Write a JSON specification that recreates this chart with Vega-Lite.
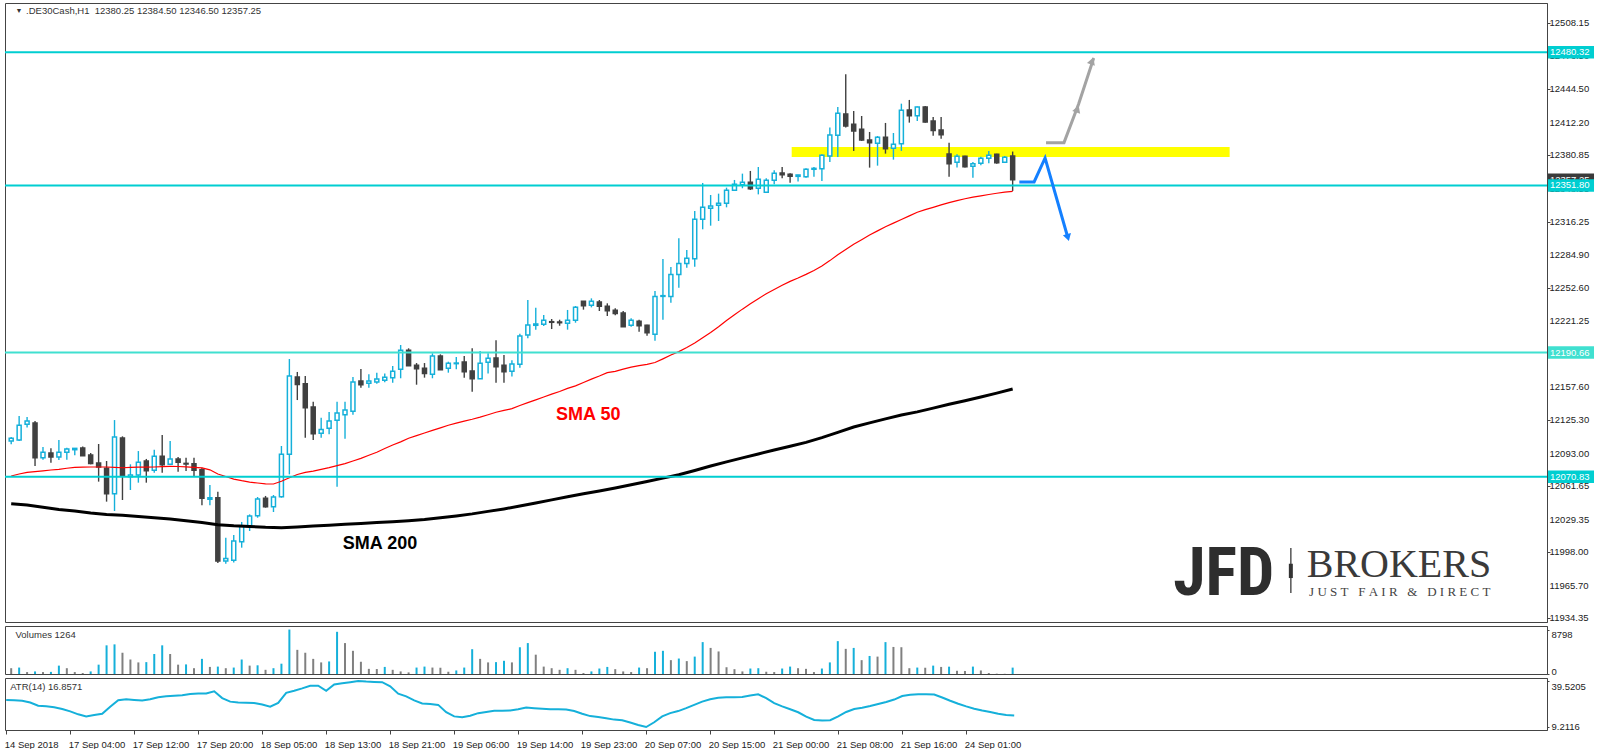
{
"$schema": "https://vega.github.io/schema/vega-lite/v6.json",
"padding": {"left": 3, "top": 2, "right": 0, "bottom": 0},
"background": "white",
"spacing": 1,
"config": {
  "view": {"stroke": "#444444", "strokeWidth": 1},
  "axis": {"labelFont": "Liberation Sans", "labelFontSize": 9.5, "labelColor": "#222222", "tickColor": "#444444", "domainColor": "#444444", "grid": false, "labelOverlap": false, "title": null}
},
"datasets": {
  "candles": [
{"k":0,"o":12105.3,"h":12109.1,"l":12102.1,"c":12107.9,"s":12071.5,"v":1148,"a":27.08},
{"k":1,"o":12106.3,"h":12129.4,"l":12105.3,"c":12120.4,"s":12073.5,"v":1275,"a":26.89},
{"k":2,"o":12121.4,"h":12128.4,"l":12118.2,"c":12124.6,"s":12075,"v":383,"a":26.5},
{"k":3,"o":12122.7,"h":12124.6,"l":12081.2,"c":12089.2,"s":12075.8,"v":510,"a":25.34},
{"k":4,"o":12089.2,"h":12099.5,"l":12087.3,"c":12094.4,"s":12076.5,"v":383,"a":23.2},
{"k":5,"o":12093.7,"h":12098.2,"l":12084.4,"c":12089.9,"s":12077.3,"v":420,"a":22.81},
{"k":6,"o":12089.9,"h":12106.3,"l":12086.9,"c":12094.4,"s":12078,"v":1658,"a":22.23},
{"k":7,"o":12094.4,"h":12098.9,"l":12087.3,"c":12097.6,"s":12079,"v":1148,"a":21.06},
{"k":8,"o":12096.9,"h":12098.2,"l":12091.5,"c":12098.2,"s":12079.8,"v":383,"a":19.51},
{"k":9,"o":12098.5,"h":12100.1,"l":12091.1,"c":12091.1,"s":12080,"v":191,"a":17.56},
{"k":10,"o":12091.8,"h":12093.7,"l":12082.8,"c":12083.7,"s":12080.2,"v":510,"a":16.2},
{"k":11,"o":12084.1,"h":12102.4,"l":12066.1,"c":12080.2,"s":12080.2,"v":1849,"a":17.18},
{"k":12,"o":12078.9,"h":12086.0,"l":12046.8,"c":12054.5,"s":12080.2,"v":5674,"a":17.95},
{"k":13,"o":12054.5,"h":12125.5,"l":12037.8,"c":12109.1,"s":12079.8,"v":5865,"a":22.62},
{"k":14,"o":12108.2,"h":12109.8,"l":12048.4,"c":12071.2,"s":12079.5,"v":4208,"a":26.89},
{"k":15,"o":12070.9,"h":12082.8,"l":12058.0,"c":12072.5,"s":12079.8,"v":2869,"a":27.47},
{"k":16,"o":12072.5,"h":12095.6,"l":12065.1,"c":12084.7,"s":12080,"v":2295,"a":27.08},
{"k":17,"o":12086.0,"h":12088.0,"l":12065.1,"c":12076.7,"s":12080.1,"v":2350,"a":26.7},
{"k":18,"o":12077.0,"h":12096.9,"l":12074.7,"c":12090.5,"s":12080.2,"v":3953,"a":27.47},
{"k":19,"o":12090.5,"h":12111.1,"l":12074.7,"c":12082.5,"s":12080.6,"v":5674,"a":28.83},
{"k":20,"o":12082.8,"h":12105.3,"l":12082.8,"c":12087.9,"s":12080.9,"v":3953,"a":29.42},
{"k":21,"o":12087.9,"h":12089.9,"l":12075.7,"c":12084.7,"s":12080.7,"v":1849,"a":29.8},
{"k":22,"o":12083.7,"h":12089.2,"l":12076.3,"c":12083.1,"s":12080.4,"v":1900,"a":30.19},
{"k":23,"o":12083.4,"h":12089.2,"l":12071.5,"c":12077.0,"s":12079.9,"v":1148,"a":30.97},
{"k":24,"o":12077.6,"h":12079.6,"l":12043.2,"c":12050.0,"s":12079.3,"v":2996,"a":31.36},
{"k":25,"o":12049.0,"h":12062.9,"l":12043.2,"c":12050.6,"s":12077.5,"v":1403,"a":31.36},
{"k":26,"o":12050.6,"h":12056.4,"l":11987.6,"c":11989.5,"s":12073.5,"v":1466,"a":32.72},
{"k":27,"o":11989.5,"h":12012.0,"l":11987.0,"c":11992.0,"s":12071,"v":1148,"a":28.25},
{"k":28,"o":11990.2,"h":12014.6,"l":11988.0,"c":12008.8,"s":12068.5,"v":1275,"a":25.92},
{"k":29,"o":12008.2,"h":12027.2,"l":12002.4,"c":12023.0,"s":12067,"v":2869,"a":25.34},
{"k":30,"o":12023.0,"h":12034.5,"l":12018.5,"c":12032.9,"s":12065.7,"v":1658,"a":25.14},
{"k":31,"o":12033.3,"h":12051.3,"l":12031.3,"c":12049.3,"s":12064.8,"v":1720,"a":24.95},
{"k":32,"o":12050.0,"h":12052.3,"l":12041.0,"c":12041.9,"s":12064,"v":829,"a":23.98},
{"k":33,"o":12041.9,"h":12053.2,"l":12036.8,"c":12051.3,"s":12063.8,"v":1148,"a":22.62},
{"k":34,"o":12051.6,"h":12100.5,"l":12050.6,"c":12092.4,"s":12066.5,"v":2040,"a":25.14},
{"k":35,"o":12092.4,"h":12184.4,"l":12073.1,"c":12168.0,"s":12069.9,"v":8798,"a":31.75},
{"k":36,"o":12167.0,"h":12171.9,"l":12144.8,"c":12159.9,"s":12073,"v":4781,"a":33.11},
{"k":37,"o":12160.6,"h":12168.0,"l":12108.5,"c":12137.4,"s":12075,"v":4208,"a":34.66},
{"k":38,"o":12138.1,"h":12143.2,"l":12106.3,"c":12112.4,"s":12076.3,"v":2996,"a":36.41},
{"k":39,"o":12112.7,"h":12127.8,"l":12108.5,"c":12116.5,"s":12078,"v":2295,"a":36.41},
{"k":40,"o":12117.5,"h":12133.3,"l":12111.7,"c":12124.6,"s":12079.6,"v":2486,"a":33.11},
{"k":41,"o":12125.2,"h":12143.2,"l":12061.2,"c":12132.3,"s":12081.5,"v":8351,"a":37.19},
{"k":42,"o":12130.7,"h":12143.2,"l":12107.5,"c":12135.2,"s":12083.5,"v":6120,"a":37.97},
{"k":43,"o":12133.9,"h":12167.0,"l":12130.7,"c":12162.2,"s":12086,"v":4590,"a":38.74},
{"k":44,"o":12163.2,"h":12174.8,"l":12156.7,"c":12159.6,"s":12088.5,"v":2423,"a":39.52},
{"k":45,"o":12160.9,"h":12169.6,"l":12156.7,"c":12163.2,"s":12091.5,"v":1020,"a":39.13},
{"k":46,"o":12162.2,"h":12171.2,"l":12160.6,"c":12165.1,"s":12094.5,"v":980,"a":38.94},
{"k":47,"o":12163.8,"h":12170.3,"l":12161.9,"c":12166.7,"s":12098,"v":1403,"a":38.74},
{"k":48,"o":12166.4,"h":12177.6,"l":12161.6,"c":12172.5,"s":12101.5,"v":829,"a":36.02},
{"k":49,"o":12174.4,"h":12197.9,"l":12165.8,"c":12192.8,"s":12104.5,"v":510,"a":31.17},
{"k":50,"o":12192.8,"h":12194.7,"l":12178.0,"c":12178.0,"s":12108,"v":319,"a":29.42},
{"k":51,"o":12178.3,"h":12180.5,"l":12159.6,"c":12175.1,"s":12110.5,"v":1275,"a":26.7},
{"k":52,"o":12175.4,"h":12180.5,"l":12166.4,"c":12170.3,"s":12113,"v":1466,"a":24.75},
{"k":53,"o":12169.6,"h":12189.9,"l":12165.8,"c":12187.3,"s":12115.5,"v":1275,"a":24.36},
{"k":54,"o":12187.3,"h":12188.9,"l":12174.1,"c":12174.1,"s":12118,"v":1240,"a":23.78},
{"k":55,"o":12175.4,"h":12181.8,"l":12171.2,"c":12180.2,"s":12120.5,"v":446,"a":18.92},
{"k":56,"o":12179.9,"h":12186.3,"l":12174.4,"c":12180.5,"s":12122.5,"v":701,"a":16.2},
{"k":57,"o":12181.5,"h":12187.3,"l":12166.4,"c":12172.2,"s":12124.5,"v":1275,"a":15.62},
{"k":58,"o":12172.8,"h":12194.7,"l":12152.9,"c":12165.4,"s":12126.3,"v":4909,"a":16.59},
{"k":59,"o":12165.4,"h":12192.1,"l":12165.4,"c":12180.2,"s":12128.3,"v":2996,"a":18.34},
{"k":60,"o":12181.2,"h":12189.9,"l":12170.3,"c":12185.0,"s":12130.6,"v":2295,"a":19.12},
{"k":61,"o":12185.4,"h":12202.4,"l":12161.6,"c":12177.0,"s":12133,"v":2350,"a":19.9},
{"k":62,"o":12178.3,"h":12188.3,"l":12161.6,"c":12172.2,"s":12134.8,"v":2614,"a":19.9},
{"k":63,"o":12172.5,"h":12183.1,"l":12167.4,"c":12179.6,"s":12136.5,"v":2295,"a":20.09},
{"k":64,"o":12179.3,"h":12208.8,"l":12176.0,"c":12206.6,"s":12139.5,"v":5291,"a":20.87},
{"k":65,"o":12207.5,"h":12241.3,"l":12204.3,"c":12217.2,"s":12142.3,"v":6120,"a":22.03},
{"k":66,"o":12216.9,"h":12233.9,"l":12212.7,"c":12218.2,"s":12145,"v":3825,"a":21.64},
{"k":67,"o":12217.8,"h":12226.8,"l":12216.2,"c":12221.7,"s":12147.7,"v":1466,"a":21.26},
{"k":68,"o":12220.4,"h":12223.0,"l":12213.3,"c":12219.8,"s":12150.5,"v":1148,"a":20.87},
{"k":69,"o":12220.1,"h":12222.3,"l":12216.5,"c":12219.4,"s":12153,"v":829,"a":20.87},
{"k":70,"o":12218.8,"h":12231.7,"l":12212.7,"c":12221.7,"s":12156,"v":1148,"a":20.67},
{"k":71,"o":12221.7,"h":12235.5,"l":12219.4,"c":12234.2,"s":12158.5,"v":829,"a":19.7},
{"k":72,"o":12240.0,"h":12240.3,"l":12232.0,"c":12235.8,"s":12161.7,"v":191,"a":17.95},
{"k":73,"o":12236.2,"h":12242.9,"l":12234.2,"c":12240.0,"s":12165,"v":510,"a":16.4},
{"k":74,"o":12239.4,"h":12241.3,"l":12230.7,"c":12235.2,"s":12168,"v":1084,"a":15.81},
{"k":75,"o":12235.2,"h":12238.1,"l":12225.9,"c":12231.0,"s":12171.2,"v":1403,"a":15.04},
{"k":76,"o":12231.3,"h":12233.3,"l":12226.5,"c":12228.4,"s":12172.5,"v":956,"a":14.07},
{"k":77,"o":12228.8,"h":12230.7,"l":12215.6,"c":12215.6,"s":12174.7,"v":510,"a":13.68},
{"k":78,"o":12216.9,"h":12223.6,"l":12215.6,"c":12221.7,"s":12176.5,"v":383,"a":12.12},
{"k":79,"o":12220.7,"h":12222.3,"l":12210.8,"c":12216.5,"s":12178,"v":1275,"a":10.57},
{"k":80,"o":12216.9,"h":12217.5,"l":12206.9,"c":12209.8,"s":12179.2,"v":1148,"a":9.21},
{"k":81,"o":12208.2,"h":12250.0,"l":12202.1,"c":12244.8,"s":12181,"v":4399,"a":12.32},
{"k":82,"o":12244.8,"h":12280.9,"l":12222.3,"c":12245.5,"s":12184.5,"v":4590,"a":16.2},
{"k":83,"o":12244.8,"h":12273.1,"l":12238.7,"c":12266.0,"s":12188.2,"v":2741,"a":18.34},
{"k":84,"o":12266.0,"h":12300.8,"l":12253.2,"c":12276.6,"s":12191.5,"v":3060,"a":19.7},
{"k":85,"o":12276.4,"h":12289.5,"l":12272.5,"c":12281.5,"s":12195.5,"v":2550,"a":21.64},
{"k":86,"o":12281.2,"h":12327.2,"l":12273.4,"c":12319.1,"s":12199.8,"v":3443,"a":23.78},
{"k":87,"o":12319.1,"h":12354.2,"l":12309.5,"c":12330.7,"s":12205,"v":6311,"a":25.92},
{"k":88,"o":12329.7,"h":12342.6,"l":12313.0,"c":12332.0,"s":12210,"v":5164,"a":27.47},
{"k":89,"o":12332.6,"h":12343.9,"l":12317.5,"c":12334.6,"s":12215.5,"v":4463,"a":28.44},
{"k":90,"o":12334.6,"h":12349.7,"l":12330.7,"c":12347.1,"s":12221.5,"v":1339,"a":28.83},
{"k":91,"o":12347.1,"h":12357.1,"l":12346.5,"c":12352.9,"s":12227,"v":956,"a":28.83},
{"k":92,"o":12352.6,"h":12363.2,"l":12349.1,"c":12354.8,"s":12232.5,"v":510,"a":29.03},
{"k":93,"o":12354.8,"h":12365.8,"l":12347.4,"c":12348.7,"s":12237.6,"v":1084,"a":30.0},
{"k":94,"o":12349.1,"h":12369.6,"l":12343.2,"c":12357.7,"s":12242.5,"v":1148,"a":30.78},
{"k":95,"o":12345.2,"h":12358.7,"l":12345.2,"c":12356.8,"s":12247.4,"v":446,"a":28.25},
{"k":96,"o":12356.8,"h":12366.4,"l":12352.9,"c":12363.5,"s":12251.5,"v":383,"a":24.95},
{"k":97,"o":12363.8,"h":12369.6,"l":12358.7,"c":12362.2,"s":12255.5,"v":1084,"a":22.81},
{"k":98,"o":12362.5,"h":12363.5,"l":12354.5,"c":12360.6,"s":12259.3,"v":1466,"a":20.87},
{"k":99,"o":12360.6,"h":12362.2,"l":12355.5,"c":12361.9,"s":12262.5,"v":1148,"a":18.92},
{"k":100,"o":12360.3,"h":12368.3,"l":12359.3,"c":12367.4,"s":12266,"v":1020,"a":16.01},
{"k":101,"o":12367.4,"h":12369.6,"l":12360.3,"c":12368.3,"s":12269.8,"v":383,"a":13.87},
{"k":102,"o":12368.0,"h":12381.8,"l":12356.1,"c":12380.9,"s":12274,"v":1084,"a":13.48},
{"k":103,"o":12380.2,"h":12407.6,"l":12374.4,"c":12400.5,"s":12279.3,"v":2295,"a":13.68},
{"k":104,"o":12400.2,"h":12427.5,"l":12379.3,"c":12421.4,"s":12285,"v":6503,"a":16.2},
{"k":105,"o":12420.8,"h":12459.0,"l":12407.6,"c":12409.2,"s":12290,"v":4973,"a":19.12},
{"k":106,"o":12410.8,"h":12423.6,"l":12385.1,"c":12404.3,"s":12295,"v":5164,"a":21.06},
{"k":107,"o":12406.0,"h":12418.8,"l":12394.7,"c":12395.7,"s":12299.5,"v":2741,"a":21.84},
{"k":108,"o":12395.7,"h":12403.4,"l":12369.0,"c":12393.1,"s":12304,"v":3570,"a":23.0},
{"k":109,"o":12392.5,"h":12399.5,"l":12370.9,"c":12398.2,"s":12308,"v":3443,"a":24.36},
{"k":110,"o":12398.2,"h":12412.1,"l":12382.5,"c":12387.3,"s":12312,"v":6311,"a":25.73},
{"k":111,"o":12387.6,"h":12402.4,"l":12376.7,"c":12391.5,"s":12315.5,"v":5355,"a":27.28},
{"k":112,"o":12392.1,"h":12430.7,"l":12385.1,"c":12424.3,"s":12319,"v":5300,"a":29.61},
{"k":113,"o":12424.6,"h":12434.3,"l":12412.4,"c":12419.1,"s":12322.5,"v":1148,"a":30.39},
{"k":114,"o":12419.1,"h":12428.0,"l":12414.0,"c":12427.5,"s":12326,"v":1275,"a":30.78},
{"k":115,"o":12427.5,"h":12428.5,"l":12412.4,"c":12413.0,"s":12328.5,"v":1240,"a":30.78},
{"k":116,"o":12414.0,"h":12417.9,"l":12399.8,"c":12404.7,"s":12330.7,"v":1658,"a":30.58},
{"k":117,"o":12405.3,"h":12417.9,"l":12396.9,"c":12400.8,"s":12333,"v":1400,"a":28.64},
{"k":118,"o":12382.2,"h":12393.1,"l":12360.3,"c":12372.8,"s":12335.3,"v":1450,"a":26.5},
{"k":119,"o":12374.1,"h":12381.8,"l":12369.0,"c":12379.9,"s":12337.2,"v":638,"a":24.56},
{"k":120,"o":12379.9,"h":12380.5,"l":12369.0,"c":12369.9,"s":12339,"v":600,"a":22.81},
{"k":121,"o":12370.3,"h":12374.4,"l":12359.3,"c":12372.8,"s":12340.5,"v":1466,"a":21.26},
{"k":122,"o":12373.2,"h":12379.6,"l":12371.2,"c":12378.0,"s":12341.8,"v":701,"a":20.09},
{"k":123,"o":12378.0,"h":12385.1,"l":12373.2,"c":12380.9,"s":12343.1,"v":191,"a":19.12},
{"k":124,"o":12381.8,"h":12382.5,"l":12372.8,"c":12373.8,"s":12344.3,"v":64,"a":17.95},
{"k":125,"o":12374.1,"h":12380.2,"l":12374.1,"c":12378.9,"s":12345.3,"v":40,"a":17.18},
{"k":126,"o":12380.25,"h":12384.5,"l":12346.5,"c":12357.25,"s":12346,"v":1264,"a":16.86}
  ],
  "sma200": [
{"k":0,"m":12044.8},{"k":2,"m":12043.6},{"k":4,"m":12041.3},{"k":6,"m":12039.2},{"k":8,"m":12037.7},{"k":10,"m":12035.8},{"k":12,"m":12034.5},{"k":14,"m":12033.7},{"k":16,"m":12032.5},{"k":18,"m":12031.2},{"k":20,"m":12030},{"k":22,"m":12028.3},{"k":24,"m":12026.7},{"k":26,"m":12024.6},{"k":28,"m":12023.5},{"k":30,"m":12022.9},{"k":32,"m":12022.1},{"k":34,"m":12021.7},{"k":36,"m":12022.3},{"k":38,"m":12023.2},{"k":40,"m":12024},{"k":42,"m":12024.9},{"k":44,"m":12025.8},{"k":46,"m":12026.6},{"k":48,"m":12027.4},{"k":50,"m":12028.4},{"k":52,"m":12029.6},{"k":54,"m":12031.2},{"k":56,"m":12033},{"k":58,"m":12035},{"k":60,"m":12037.4},{"k":62,"m":12039.8},{"k":64,"m":12042.5},{"k":66,"m":12045.4},{"k":68,"m":12048.5},{"k":70,"m":12051.5},{"k":72,"m":12054.4},{"k":74,"m":12057.1},{"k":76,"m":12060},{"k":78,"m":12063.1},{"k":80,"m":12066.3},{"k":82,"m":12069.5},{"k":84,"m":12072.7},{"k":86,"m":12076.9},{"k":88,"m":12081.2},{"k":90,"m":12085.2},{"k":92,"m":12089},{"k":94,"m":12092.8},{"k":96,"m":12096.6},{"k":98,"m":12100.2},{"k":100,"m":12104},{"k":102,"m":12108.6},{"k":104,"m":12113.6},{"k":106,"m":12118.8},{"k":108,"m":12122.8},{"k":110,"m":12126.6},{"k":112,"m":12130.4},{"k":114,"m":12133.4},{"k":116,"m":12137},{"k":118,"m":12140.7},{"k":120,"m":12144.2},{"k":122,"m":12147.8},{"k":124,"m":12151.5},{"k":126,"m":12155.4}
  ],
  "ylabels": [{"t":12508.15},{"t":12476.5},{"t":12444.5},{"t":12412.2},{"t":12380.85},{"t":12348.55},{"t":12316.25},{"t":12284.9},{"t":12252.6},{"t":12221.25},{"t":12189.4},{"t":12157.6},{"t":12125.3},{"t":12093.0},{"t":12061.65},{"t":12029.35},{"t":11998.0},{"t":11965.7},{"t":11934.35}],
  "levels": [{"level":12480.32},{"level":12351.8},{"level":12190.66},{"level":12070.83}],
  "current": [{"level":12357.25}],
  "zone": [{"k1":98.2,"k2":153.3,"p1":12379.3,"p2":12388.9}],
  "blue": [{"s":0,"k":126.84,"p":12355.2},{"s":1,"k":128.7,"p":12355.2},{"s":2,"k":130.08,"p":12378.3},{"s":3,"k":132.85,"p":12304}],
  "gray": [{"s":0,"k":130.2,"p":12393.1},{"s":1,"k":132.46,"p":12393.1},{"s":2,"k":134.3,"p":12430.4},{"s":3,"k":136.2,"p":12474.8}],
  "grayheads": [{"k":134.15,"p":12425.6},{"k":136.0,"p":12471.9}],
  "blueheads": [{"k":132.95,"p":12301.5}],
  "one": [{"n":1}]
},
"vconcat": [
{
  "width": 1542, "height": 619,
  "layer": [
    {"data": {"name": "zone"}, "mark": {"type": "rect", "color": "#ffff00"},
     "encoding": {
       "x": {"field": "k1", "type": "quantitative", "scale": {"domain": [-0.15,192.6], "nice": false, "zero": false}, "axis": null},
       "x2": {"field": "k2"},
       "y": {"field": "p1", "type": "quantitative", "scale": {"domain": [11930.7,12527.8], "nice": false, "zero": false},
             "axis": {"orient": "right", "title": null, "values": [12508.15,12476.5,12444.5,12412.2,12380.85,12348.55,12316.25,12284.9,12252.6,12221.25,12189.4,12157.6,12125.3,12093,12061.65,12029.35,11998,11965.7,11934.35], "tickSize": 3, "labels": false}},
       "y2": {"field": "p2"}}},
    {"data": {"name": "candles"}, "mark": {"type": "rule", "strokeWidth": 1.4, "clip": true},
     "encoding": {
       "x": {"field": "k", "type": "quantitative", "axis": null},
       "y": {"field": "l", "type": "quantitative"},
       "y2": {"field": "h"},
       "color": {"condition": {"test": "datum.c >= datum.o", "value": "#15b0da"}, "value": "#404040"}}},
    {"data": {"name": "candles"}, "mark": {"type": "bar", "size": 4, "strokeWidth": 1.5, "clip": true},
     "encoding": {
       "x": {"field": "k", "type": "quantitative", "axis": null},
       "y": {"field": "o", "type": "quantitative"},
       "y2": {"field": "c"},
       "fill": {"condition": {"test": "datum.c >= datum.o", "value": "#ffffff"}, "value": "#404040"},
       "stroke": {"condition": {"test": "datum.c >= datum.o", "value": "#15b0da"}, "value": "#404040"}}},
    {"data": {"name": "sma200"}, "mark": {"type": "line", "color": "#000000", "strokeWidth": 3, "clip": true},
     "encoding": {
       "x": {"field": "k", "type": "quantitative", "axis": null},
       "y": {"field": "m", "type": "quantitative"}}},
    {"data": {"name": "candles"}, "mark": {"type": "line", "color": "#ff0000", "strokeWidth": 1.2, "clip": true},
     "encoding": {
       "x": {"field": "k", "type": "quantitative", "axis": null},
       "y": {"field": "s", "type": "quantitative"}}},
    {"data": {"name": "levels"}, "mark": {"type": "rule", "strokeWidth": 2},
     "encoding": {
       "y": {"field": "level", "type": "quantitative"},
       "color": {"condition": {"test": "datum.level == 12190.66", "value": "#40e0d0"}, "value": "#00ced1"}}},
    {"data": {"name": "gray"}, "mark": {"type": "line", "color": "#a3a3a3", "strokeWidth": 3},
     "encoding": {
       "x": {"field": "k", "type": "quantitative", "axis": null},
       "y": {"field": "p", "type": "quantitative"},
       "order": {"field": "s", "type": "quantitative"}}},
    {"data": {"name": "grayheads"}, "mark": {"type": "point", "shape": "triangle-up", "filled": true, "size": 70, "angle": 20, "color": "#a3a3a3", "opacity": 1},
     "encoding": {
       "x": {"field": "k", "type": "quantitative", "axis": null},
       "y": {"field": "p", "type": "quantitative"}}},
    {"data": {"name": "blue"}, "mark": {"type": "line", "color": "#1480ff", "strokeWidth": 3},
     "encoding": {
       "x": {"field": "k", "type": "quantitative", "axis": null},
       "y": {"field": "p", "type": "quantitative"},
       "order": {"field": "s", "type": "quantitative"}}},
    {"data": {"name": "blueheads"}, "mark": {"type": "point", "shape": "triangle-up", "filled": true, "size": 70, "angle": 164, "color": "#1480ff", "opacity": 1},
     "encoding": {
       "x": {"field": "k", "type": "quantitative", "axis": null},
       "y": {"field": "p", "type": "quantitative"}}},
    {"data": {"name": "one"}, "mark": {"type": "text", "text": "SMA 50", "color": "#ff0000", "fontWeight": "bold", "fontSize": 18, "font": "Liberation Sans", "align": "center", "baseline": "alphabetic"},
     "encoding": {
       "x": {"datum": 72.6, "type": "quantitative", "axis": null},
       "y": {"datum": 12125.5, "type": "quantitative"}}},
    {"data": {"name": "one"}, "mark": {"type": "text", "text": "SMA 200", "color": "#000000", "fontWeight": "bold", "fontSize": 18, "font": "Liberation Sans", "align": "center", "baseline": "alphabetic"},
     "encoding": {
       "x": {"datum": 46.4, "type": "quantitative", "axis": null},
       "y": {"datum": 12001.0, "type": "quantitative"}}},
    {"data": {"name": "one"}, "mark": {"type": "text", "text": "▼", "color": "#333333", "fontSize": 7, "align": "left", "baseline": "middle"},
     "encoding": {
       "x": {"datum": 0.55, "type": "quantitative", "axis": null},
       "y": {"datum": 12520.3, "type": "quantitative"}}},
    {"data": {"name": "one"}, "mark": {"type": "text", "text": ".DE30Cash,H1\u00a0\u00a012380.25 12384.50 12346.50 12357.25", "color": "#333333", "fontSize": 9.5, "font": "Liberation Sans", "align": "left", "baseline": "middle"},
     "encoding": {
       "x": {"datum": 1.875, "type": "quantitative", "axis": null},
       "y": {"datum": 12520.1, "type": "quantitative"}}},
    {"data": {"name": "one"}, "mark": {"type": "text", "text": "JFD", "color": "#2e2e2e", "fontWeight": "bold", "fontSize": 66, "font": "Liberation Sans Narrow, Roboto Condensed, Roboto", "align": "left", "baseline": "alphabetic"},
     "encoding": {
       "x": {"datum": 146.2, "type": "quantitative", "axis": null},
       "y": {"datum": 11956.7, "type": "quantitative"}}},
    {"data": {"name": "one"}, "mark": {"type": "rule", "color": "#555555", "strokeWidth": 1.5},
     "encoding": {
       "x": {"datum": 161.0, "type": "quantitative", "axis": null},
       "y": {"datum": 12002.1, "type": "quantitative"},
       "y2": {"datum": 11958.7}}},
    {"data": {"name": "one"}, "mark": {"type": "rule", "color": "#333333", "strokeWidth": 4},
     "encoding": {
       "x": {"datum": 161.0, "type": "quantitative", "axis": null},
       "y": {"datum": 11986.9, "type": "quantitative"},
       "y2": {"datum": 11973.1}}},
    {"data": {"name": "one"}, "mark": {"type": "text", "text": "BROKERS", "color": "#3a3a3a", "fontSize": 40, "font": "Liberation Serif", "align": "left", "baseline": "alphabetic"},
     "encoding": {
       "x": {"datum": 163.0, "type": "quantitative", "axis": null},
       "y": {"datum": 11974.5, "type": "quantitative"}}},
    {"data": {"name": "one"}, "mark": {"type": "text", "text": "J\u00a0U\u00a0S\u00a0T\u00a0\u00a0\u00a0F\u00a0A\u00a0I\u00a0R\u00a0\u00a0\u00a0&\u00a0\u00a0\u00a0D\u00a0I\u00a0R\u00a0E\u00a0C\u00a0T", "color": "#444444", "fontSize": 13, "font": "Liberation Serif", "align": "left", "baseline": "alphabetic"},
     "encoding": {
       "x": {"datum": 163.3, "type": "quantitative", "axis": null},
       "y": {"datum": 11955.5, "type": "quantitative"}}},
    {"data": {"name": "ylabels"}, "mark": {"type": "text", "color": "#222222", "fontSize": 9.5, "font": "Liberation Sans", "align": "left", "baseline": "middle", "clip": false},
     "encoding": {
       "x": {"datum": 193.55, "type": "quantitative", "axis": null},
       "y": {"field": "t", "type": "quantitative"},
       "text": {"field": "t", "type": "quantitative", "format": ".2f"}}},
    {"data": {"name": "current"}, "mark": {"type": "point", "shape": "M-1,-0.27L1,-0.27L1,0.27L-1,0.27Z", "size": 2116, "filled": true, "opacity": 1, "color": "#3a3a3a", "strokeWidth": 0, "clip": false},
     "encoding": {
       "x": {"datum": 196.25, "type": "quantitative", "axis": null},
       "y": {"field": "level", "type": "quantitative"}}},
    {"data": {"name": "current"}, "mark": {"type": "text", "color": "#ffffff", "fontSize": 9.5, "font": "Liberation Sans", "align": "left", "baseline": "middle", "clip": false},
     "encoding": {
       "x": {"datum": 193.6, "type": "quantitative", "axis": null},
       "y": {"field": "level", "type": "quantitative"},
       "text": {"field": "level", "type": "quantitative", "format": ".2f"}}},
    {"data": {"name": "levels"}, "mark": {"type": "point", "shape": "M-1,-0.27L1,-0.27L1,0.27L-1,0.27Z", "size": 2116, "filled": true, "opacity": 1, "strokeWidth": 0, "clip": false},
     "encoding": {
       "x": {"datum": 196.25, "type": "quantitative", "axis": null},
       "y": {"field": "level", "type": "quantitative"},
       "color": {"condition": {"test": "datum.level == 12190.66", "value": "#40e0d0"}, "value": "#00ced1"}}},
    {"data": {"name": "levels"}, "mark": {"type": "text", "color": "#ffffff", "fontSize": 9.5, "font": "Liberation Sans", "align": "left", "baseline": "middle", "clip": false},
     "encoding": {
       "x": {"datum": 193.6, "type": "quantitative", "axis": null},
       "y": {"field": "level", "type": "quantitative"},
       "text": {"field": "level", "type": "quantitative", "format": ".2f"}}}
  ]
},
{
  "width": 1542, "height": 48,
  "data": {"name": "candles"},
  "transform": [{"window": [{"op": "lag", "field": "v", "as": "pv"}], "sort": [{"field": "k"}]}],
  "layer": [
    {"mark": {"type": "bar", "size": 2, "clip": true},
     "encoding": {
       "x": {"field": "k", "type": "quantitative", "scale": {"domain": [-0.15,192.6], "nice": false, "zero": false}, "axis": null},
       "y": {"field": "v", "type": "quantitative", "scale": {"domain": [0,9500], "nice": false},
             "axis": {"orient": "right", "title": null, "values": [8798, 0], "format": "d", "tickSize": 2, "labelPadding": 2, "labelFlush": false, "labelOverlap": false,
                      "labelBaseline": {"condition": {"test": "datum.value > 0", "value": "top"}, "value": "alphabetic"}}},
       "color": {"condition": {"test": "datum.pv != null && datum.v > datum.pv", "value": "#15b0da"}, "value": "#808080"}}},
    {"data": {"name": "one"}, "mark": {"type": "text", "text": "Volumes 1264", "color": "#333333", "fontSize": 9.5, "font": "Liberation Sans", "align": "left", "baseline": "middle"},
     "encoding": {
       "x": {"datum": 0.54, "type": "quantitative", "axis": null},
       "y": {"datum": 7620, "type": "quantitative"}}}
  ]
},
{
  "width": 1542, "height": 52,
  "layer": [
    {"data": {"name": "candles"}, "mark": {"type": "line", "color": "#15b0da", "strokeWidth": 2, "clip": true},
     "encoding": {
       "x": {"field": "k", "type": "quantitative", "scale": {"domain": [-0.15,192.6], "nice": false, "zero": false},
             "axis": {"orient": "bottom", "title": null, "values": [0,8,16,24,32,40,48,56,64,72,80,88,96,104,112,120],
                      "labelExpr": "['14 Sep 2018','17 Sep 04:00','17 Sep 12:00','17 Sep 20:00','18 Sep 05:00','18 Sep 13:00','18 Sep 21:00','19 Sep 06:00','19 Sep 14:00','19 Sep 23:00','20 Sep 07:00','20 Sep 15:00','21 Sep 00:00','21 Sep 08:00','21 Sep 16:00','24 Sep 01:00'][round(datum.value/8)]",
                      "labelAlign": "left", "labelOffset": -2, "labelFlush": false, "labelOverlap": false, "tickSize": 4, "domain": false, "labelPadding": 5}},
       "y": {"field": "a", "type": "quantitative", "scale": {"domain": [7.23, 41.5], "nice": false, "zero": false},
             "axis": {"orient": "right", "title": null, "values": [39.5205, 9.2116], "format": ".4f", "tickSize": 2, "labelPadding": 2, "labelFlush": false, "labelOverlap": false,
                      "labelBaseline": {"condition": {"test": "datum.value > 20", "value": "top"}, "value": "middle"}}}}},
    {"data": {"name": "one"}, "mark": {"type": "text", "text": "ATR(14) 16.8571", "color": "#333333", "fontSize": 9.5, "font": "Liberation Sans", "align": "left", "baseline": "middle"},
     "encoding": {
       "x": {"datum": 0.5, "type": "quantitative"},
       "y": {"datum": 35.24, "type": "quantitative"}}}
  ]
}
]
}
